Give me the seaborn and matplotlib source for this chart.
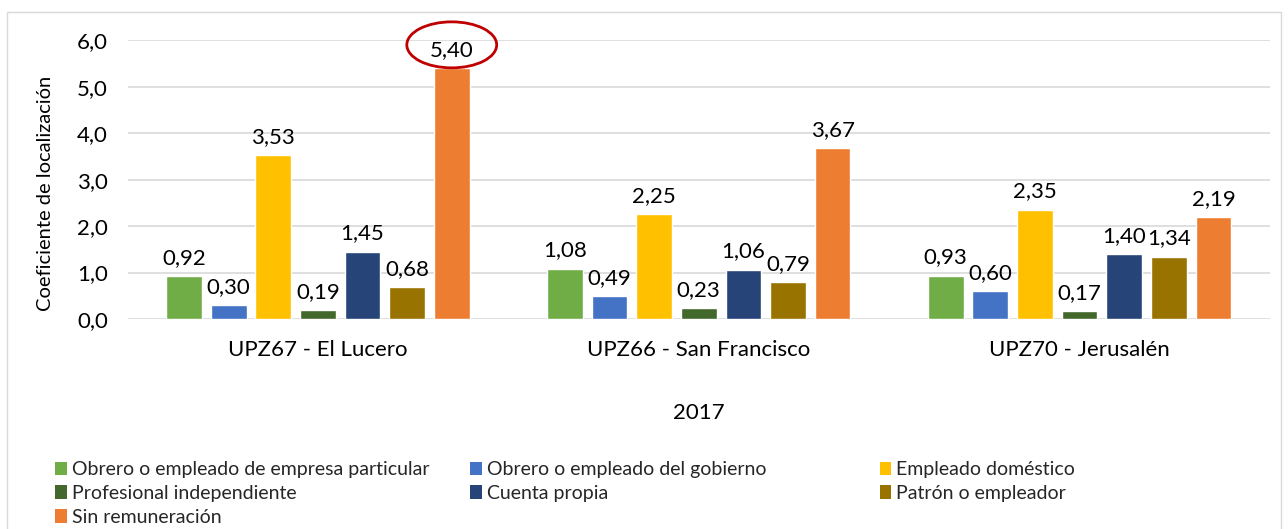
import matplotlib
matplotlib.use("Agg")
import matplotlib.pyplot as plt
import seaborn as sns
import pandas as pd
from matplotlib.patches import Ellipse, Rectangle, Patch

# data
zones = ["UPZ67 - El Lucero", "UPZ66 - San Francisco", "UPZ70 - Jerusalén"]
categories = [
    "Obrero o empleado de empresa particular",
    "Obrero o empleado del gobierno",
    "Empleado doméstico",
    "Profesional independiente",
    "Cuenta propia",
    "Patrón o empleador",
    "Sin remuneración",
]
obrero_particular = [0.92, 1.08, 0.93]
obrero_gobierno = [0.30, 0.49, 0.60]
empleado_domestico = [3.53, 2.25, 2.35]
profesional_indep = [0.19, 0.23, 0.17]
cuenta_propia = [1.45, 1.06, 1.40]
patron = [0.68, 0.79, 1.34]
sin_remuneracion = [5.40, 3.67, 2.19]
yticks = [0, 1, 2, 3, 4, 5, 6]

series = [obrero_particular, obrero_gobierno, empleado_domestico,
          profesional_indep, cuenta_propia, patron, sin_remuneracion]
colors = ["#70AD47", "#4472C4", "#FFC000", "#43682B", "#264478", "#997300", "#ED7D31"]

records = []
for cat, vals in zip(categories, series):
    for z, v in zip(zones, vals):
        records.append({"Zona": z, "Categoria": cat, "Valor": v})
df = pd.DataFrame(records)

sns.set_theme(style="white")
plt.rcParams['font.family'] = ['Lato', 'DejaVu Sans']

fig = plt.figure(figsize=(12.88, 5.29), dpi=100)
ax = fig.add_axes([0.099, 0.397, 0.887, 0.527])
sns.barplot(data=df, x="Zona", y="Valor", hue="Categoria", hue_order=categories,
            palette=colors, width=0.82, gap=0.2, saturation=1, errorbar=None,
            legend=False, ax=ax)

for cont, vals in zip(ax.containers, series):
    ax.bar_label(cont, labels=[f"{v:.2f}".replace('.', ',') for v in vals],
                 padding=6, fontsize=16, color="#000000")

ax.set_ylim(0, 6)
ax.set_xlim(-0.5, 2.5)
ax.set_yticks(yticks)
ax.set_yticklabels([f"{t:.1f}".replace('.', ',') for t in yticks])
ax.yaxis.grid(True, color="#D9D9D9", lw=1.2)
ax.set_axisbelow(True)
for s in ax.spines.values():
    s.set_visible(False)
ax.tick_params(axis='y', length=0, pad=14, labelsize=16, labelcolor="#000000")
ax.tick_params(axis='x', length=0, pad=15, labelsize=16, labelcolor="#000000")

ax.set_xlabel("2017", fontsize=16, color="#000000")
ax.xaxis.set_label_coords(0.5, -0.30)
ax.set_ylabel("Coeficiente de localización", fontsize=14.5, color="#000000")
ax.yaxis.set_label_coords(-0.064, 0.45)

# red ellipse around the max value
bar = ax.containers[6][0]
cx = bar.get_x() + bar.get_width() / 2
ax.add_patch(Ellipse((cx, 5.9), width=0.236, height=0.99, fill=False,
                     ec="#C00000", lw=2, clip_on=False, zorder=5))

# legend, row-wise in three columns
handles = [Patch(facecolor=c, edgecolor='none') for c in colors]
cols_x = [0.0427, 0.365, 0.683]
for i, x in enumerate(cols_x):
    idx = list(range(i, len(categories), 3))
    fig.legend([handles[j] for j in idx], [categories[j] for j in idx],
               loc="upper left", bbox_to_anchor=(x, 0.128), frameon=False,
               fontsize=14, handlelength=0.6, handleheight=0.7,
               handletextpad=0.25, labelspacing=0.35, borderpad=0, borderaxespad=0)

# outer chart border
fig.patches.append(Rectangle((7 / 1288, -0.01), 1274 / 1288, 1.01 - 12 / 529,
                             transform=fig.transFigure, fill=False,
                             ec="#D9D9D9", lw=1))

fig.savefig("out.png", dpi=100)
